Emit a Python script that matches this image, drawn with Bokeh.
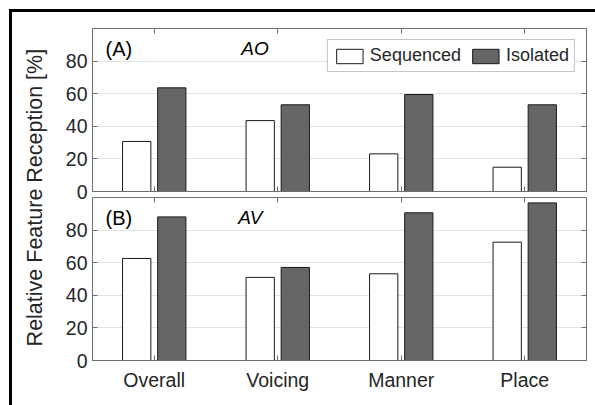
import math
from bokeh.plotting import figure
from bokeh.models import (ColumnDataSource, Range1d, FactorRange, FixedTicker, LinearAxis,
                          CategoricalAxis, Legend, LegendItem, Label, Spacer)
from bokeh.transform import dodge
from bokeh.layouts import row, column
from bokeh.embed import file_html
from bokeh.resources import INLINE

categories = ["Overall", "Voicing", "Manner", "Place"]
ao_sequenced = [30.7, 43.5, 23.1, 14.9]
ao_isolated = [63.6, 53.2, 59.5, 53.2]
av_sequenced = [62.6, 51.0, 53.2, 72.6]
av_isolated = [88.1, 57.1, 90.6, 96.7]
y_ticks = [0, 20, 40, 60, 80]
series_names = ["Sequenced", "Isolated"]
y_label = "Relative Feature Reception [%]"

FONT = "Liberation Sans"
TXT = "#262626"
AXC = "#6e6e6e"
TICK_FS = "19.5px"


def make_panel(seq, iso, tag, cond, cond_x, show_xlabels, top_border, bottom_border):
    src = ColumnDataSource(dict(cat=categories, seq=seq, iso=iso))
    p = figure(x_range=FactorRange(*categories, range_padding=0), y_range=Range1d(0, 100),
               frame_width=494, frame_height=163, min_border_left=42, min_border_right=1,
               min_border_top=top_border, min_border_bottom=bottom_border,
               output_backend="svg", toolbar_location=None,
               background_fill_color="white", border_fill_color="white")
    p.outline_line_color = AXC
    p.xgrid.visible = False
    p.ygrid.grid_line_color = "#e3e3e3"
    p.ygrid.ticker = FixedTicker(ticks=[20, 40, 60, 80])
    r1 = p.vbar(x=dodge("cat", -0.142, range=p.x_range), top="seq", width=0.229, source=src,
                fill_color="white", line_color="#1a1a1a", line_width=1)
    r2 = p.vbar(x=dodge("cat", 0.142, range=p.x_range), top="iso", width=0.229, source=src,
                fill_color="#666666", line_color="#1a1a1a", line_width=1)

    ya = p.yaxis[0]
    ya.ticker = FixedTicker(ticks=y_ticks)
    ya.major_tick_in = 5
    ya.major_tick_out = 0
    ya.minor_tick_line_color = None
    ya.major_tick_line_color = AXC
    ya.axis_line_color = AXC
    ya.major_label_standoff = 5
    ya.major_label_text_font = FONT
    ya.major_label_text_font_size = TICK_FS
    ya.major_label_text_color = TXT

    xa = p.xaxis[0]
    xa.major_tick_in = 5
    xa.major_tick_out = 0
    xa.major_tick_line_color = AXC
    xa.axis_line_color = AXC
    if show_xlabels:
        xa.major_label_standoff = 8
        xa.major_label_text_font = FONT
        xa.major_label_text_font_size = TICK_FS
        xa.major_label_text_color = TXT
    else:
        xa.major_label_standoff = 0
        xa.major_label_text_font_size = "0px"
        xa.major_label_text_color = None

    ra = LinearAxis(ticker=FixedTicker(ticks=[20, 40, 60, 80]), major_tick_in=5, major_tick_out=0,
                    minor_tick_line_color=None, major_tick_line_color=AXC, axis_line_color=AXC,
                    major_label_standoff=0, major_label_text_font_size="0px",
                    major_label_text_color=None)
    p.add_layout(ra, "right")
    ta = CategoricalAxis(major_tick_in=5, major_tick_out=0, major_tick_line_color=AXC,
                         axis_line_color=AXC, major_label_standoff=0,
                         major_label_text_font_size="0px", major_label_text_color=None)
    p.add_layout(ta, "above")

    p.add_layout(Label(x=0.105, y=87.5, text=tag, text_font=FONT, text_font_size="20px",
                       text_color="black", text_baseline="middle", text_align="left"))
    p.add_layout(Label(x=cond_x, y=87.5, text=cond, text_font=FONT, text_font_size="19px",
                       text_font_style="italic", text_color="black",
                       text_baseline="middle", text_align="left"))
    return p, r1, r2


pA, a1, a2 = make_panel(ao_sequenced, ao_isolated, "(A)", "AO", 1.205, False, 16, 13)
pB, b1, b2 = make_panel(av_sequenced, av_isolated, "(B)", "AV", 1.18, True, 3, 35)
pB.border_fill_alpha = 0
pB.styles = {"margin-top": "-10px"}

legend = Legend(items=[LegendItem(label=series_names[0], renderers=[a1]),
                       LegendItem(label=series_names[1], renderers=[a2])],
                location="top_right", orientation="horizontal", margin=11,
                padding=5, spacing=8, glyph_width=33, glyph_height=18, label_height=18,
                label_standoff=4, label_text_font=FONT, label_text_font_size="18px",
                label_text_color=TXT, border_line_color="#8a8a8a", border_line_width=1,
                background_fill_color="white", background_fill_alpha=1)
pA.add_layout(legend, "center")

lab = figure(width=38, height=393, x_range=Range1d(0, 1), y_range=Range1d(0, 1),
             min_border=0, output_backend="svg", toolbar_location=None,
             outline_line_color=None, border_fill_color="white", background_fill_color="white")
lab.axis.visible = False
lab.grid.visible = False
lab.add_layout(Label(x=0.6, y=0.529, text=y_label, angle=math.pi / 2, text_align="center",
                     text_baseline="middle", text_font=FONT, text_font_size="21.5px",
                     text_color=TXT))

top_gap = Spacer(width=595, height=9)
top_line = row(Spacer(width=9, height=3),
               Spacer(width=586, height=3, styles={"background-color": "black"}), spacing=0)
body = row(Spacer(width=9, height=393),
           Spacer(width=3, height=393, styles={"background-color": "black"}),
           lab, column(pA, pB, spacing=0), spacing=0)
layout = column(top_gap, top_line, body, spacing=0)

open("out.html", "w").write(file_html(layout, INLINE))
